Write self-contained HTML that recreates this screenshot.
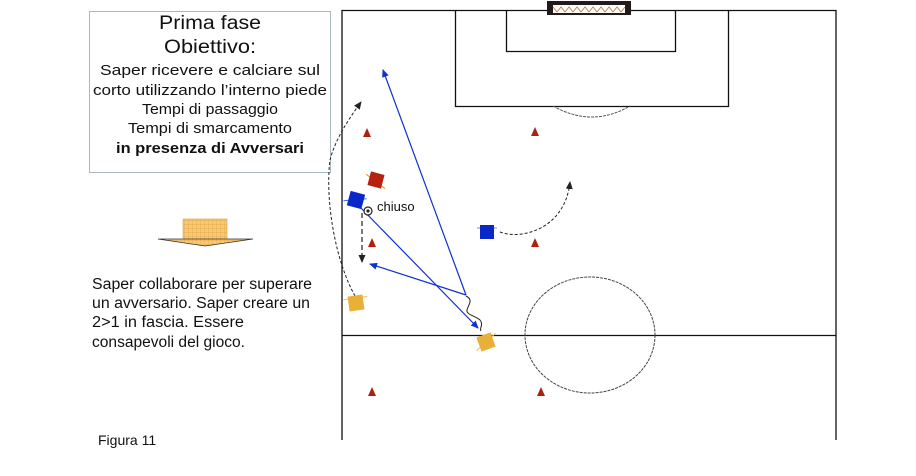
<!DOCTYPE html>
<html><head><meta charset="utf-8"><style>
body{margin:0;background:#fff;width:916px;height:476px;overflow:hidden;font-family:"Liberation Sans",sans-serif}
</style></head><body>
<svg width="916" height="476" xmlns="http://www.w3.org/2000/svg" style="position:absolute;left:0;top:0">
<defs>
<marker id="ab" markerWidth="8" markerHeight="8" refX="7" refY="4" orient="auto" markerUnits="userSpaceOnUse"><path d="M0,0.5 L8,4 L0,7.5 Z" fill="#1030d0"/></marker>
<marker id="ak" markerWidth="8" markerHeight="8" refX="7" refY="4" orient="auto" markerUnits="userSpaceOnUse"><path d="M0,0.5 L8,4 L0,7.5 Z" fill="#222"/></marker>
<pattern id="grid" width="4" height="4" patternUnits="userSpaceOnUse"><rect width="4" height="4" fill="#f6c979"/><path d="M0,0H4M0,0V4" stroke="#e4a23a" stroke-width="0.7"/></pattern>
</defs>
<!-- text box -->
<rect x="89.5" y="11.5" width="241" height="161" fill="#fff" stroke="#a9b7c0"/>
<g font-family="'Liberation Sans',sans-serif" text-anchor="middle" fill="#111">
<text x="210" y="29" font-size="19" textLength="102" lengthAdjust="spacingAndGlyphs">Prima fase</text>
<text x="210" y="53" font-size="19" textLength="92" lengthAdjust="spacingAndGlyphs">Obiettivo:</text>
<text x="210" y="75" font-size="15" textLength="220" lengthAdjust="spacingAndGlyphs">Saper ricevere e calciare sul</text>
<text x="210" y="95" font-size="15" textLength="234" lengthAdjust="spacingAndGlyphs">corto utilizzando l’interno piede</text>
<text x="210" y="114" font-size="15" textLength="136" lengthAdjust="spacingAndGlyphs">Tempi di passaggio</text>
<text x="210" y="133" font-size="15" textLength="164" lengthAdjust="spacingAndGlyphs">Tempi di smarcamento</text>
<text x="210" y="153" font-size="15" font-weight="bold" textLength="188" lengthAdjust="spacingAndGlyphs">in presenza di Avversari</text>
</g>
<!-- down arrow -->
<rect x="183" y="219" width="44" height="21" fill="url(#grid)" stroke="#d9a040" stroke-width="0.6"/>
<path d="M158,239 L253,239 L205,246 Z" fill="url(#grid)" stroke="#333" stroke-width="0.8"/>
<g font-size="15.5" fill="#111">
<text x="92" y="289" textLength="220" lengthAdjust="spacingAndGlyphs">Saper collaborare per superare</text>
<text x="92" y="308" textLength="218" lengthAdjust="spacingAndGlyphs">un avversario. Saper creare un</text>
<text x="92" y="327" textLength="152" lengthAdjust="spacingAndGlyphs">2&gt;1 in fascia. Essere</text>
<text x="92" y="347" textLength="153" lengthAdjust="spacingAndGlyphs">consapevoli del gioco.</text>
<text x="98" y="445" font-size="14">Figura 11</text>
</g>
<!-- field -->
<g stroke="#111" stroke-width="1.3" fill="none">
<path d="M342,440 V10.5 H836 V440"/>
<path d="M455.5,10 V106.5 H728.5 V10"/>
<path d="M506.5,10 V51.5 H675.5 V10"/>
<path d="M342,335.5 H836"/>
</g>
<path d="M553,106 Q592,128 630,106" stroke="#555" stroke-width="1" fill="none" stroke-dasharray="3,1"/>
<ellipse cx="590" cy="335" rx="65" ry="58" stroke="#444" stroke-width="1" fill="none" stroke-dasharray="3,1"/>
<!-- goal -->
<rect x="547" y="1" width="84" height="14" fill="#221a1a"/>
<rect x="553" y="5" width="72" height="8" fill="#fff"/>
<path d="M553,7 l4,5 l4,-5 l4,5 l4,-5 l4,5 l4,-5 l4,5 l4,-5 l4,5 l4,-5 l4,5 l4,-5 l4,5 l4,-5 l4,5 l4,-5 l4,5 l4,-5" stroke="#c07030" stroke-width="0.8" fill="none"/>
<!-- cones -->
<g fill="#b02010">
<path d="M363,137 L367,128 L371,137Z"/><path d="M531,136 L535,127 L539,136Z"/>
<path d="M368,247 L372,238 L376,247Z"/><path d="M531,247 L535,238 L539,247Z"/>
<path d="M368,396 L372,387 L376,396Z"/><path d="M537,396 L541,387 L545,396Z"/>
</g>
<!-- movements -->
<line x1="466" y1="295" x2="383" y2="70" stroke="#1030d0" stroke-width="1.2" marker-end="url(#ab)"/>
<line x1="466" y1="295" x2="370" y2="264" stroke="#1030d0" stroke-width="1.2" marker-end="url(#ab)"/>
<line x1="360" y1="207" x2="478" y2="328" stroke="#1030d0" stroke-width="1.2" marker-end="url(#ab)"/>
<path d="M466,296 C474,300 468,305 467,310 C466,315 476,316 480,320 C484,325 479,328 481,331" stroke="#222" stroke-width="1" fill="none"/>
<line x1="362" y1="213" x2="362" y2="262" stroke="#222" stroke-width="1.2" stroke-dasharray="5,3" marker-end="url(#ak)"/>
<path d="M355,296 C335,260 325,200 330,160 C335,140 348,120 361,102" stroke="#222" stroke-width="1" fill="none" stroke-dasharray="3,2" marker-end="url(#ak)"/>
<path d="M500,232 C520,240 565,230 570,182" stroke="#222" stroke-width="1" fill="none" stroke-dasharray="3,2" marker-end="url(#ak)"/>
<!-- players -->
<g transform="translate(376,180) rotate(15)"><line x1="-11" y1="-3" x2="11" y2="6" stroke="#e08a30"/><rect x="-7" y="-7" width="14" height="14" fill="#b82010"/></g>
<g transform="translate(356,200) rotate(15)"><line x1="-12" y1="4" x2="10" y2="-4" stroke="#4070e0"/><rect x="-7.5" y="-7.5" width="15" height="15" fill="#0a28c8"/></g>
<g transform="translate(487,232)"><line x1="-10" y1="-4" x2="10" y2="-4" stroke="#6090e0"/><rect x="-7" y="-7" width="14" height="14" fill="#0a28c8"/></g>
<g transform="translate(356,303) rotate(-8)"><line x1="-12" y1="-5" x2="12" y2="-5" stroke="#f0c060"/><rect x="-7.5" y="-7.5" width="15" height="15" fill="#e8b038"/></g>
<g transform="translate(486,342) rotate(-20)"><line x1="-12" y1="5" x2="12" y2="-5" stroke="#f0c060"/><rect x="-7.5" y="-7.5" width="15" height="15" fill="#e8b038"/></g>
<!-- ball -->
<circle cx="368" cy="211" r="4" fill="#fff" stroke="#222" stroke-width="1.2"/><circle cx="368" cy="211" r="1.6" fill="#222"/>
<text x="377" y="211" font-size="13" fill="#111">chiuso</text>
</svg>
</body></html>
